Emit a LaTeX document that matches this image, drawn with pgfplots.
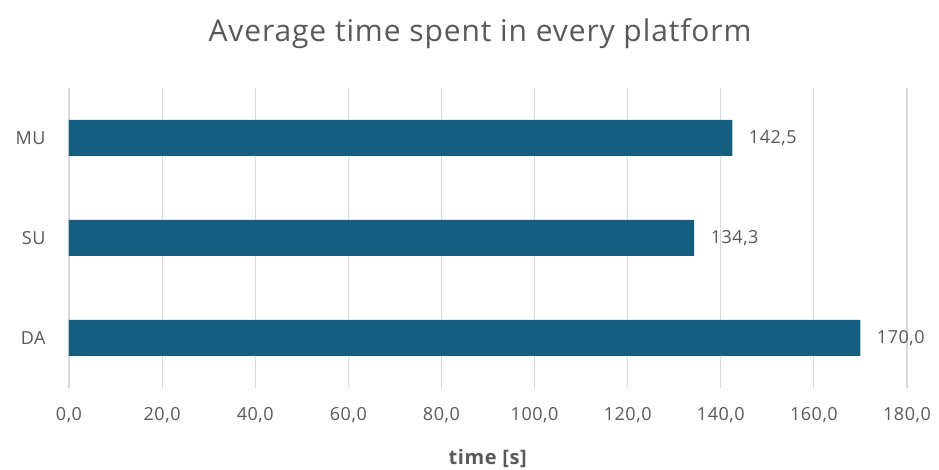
\documentclass[border=0pt]{standalone}
\usepackage{pgfplots}
\pgfplotsset{compat=1.18}
\usepackage{fontspec}
\setmainfont{Open Sans}[LetterSpace=3]
\definecolor{barc}{RGB}{22,94,128}
\definecolor{txt}{RGB}{89,89,89}
\definecolor{grd}{RGB}{217,217,217}
\begin{document}
\begin{tikzpicture}[x=1pt,y=1pt]
\useasboundingbox (0,0) rectangle (939,470);
\node[text=txt,font=\fontsize{30}{34}\selectfont] at (480,436) {Average time spent in every platform};
\begin{axis}[
  at={(69pt,82pt)}, anchor=south west,
  scale only axis, width=838pt, height=300pt,
  xbar, bar width=36pt,
  xmin=0, xmax=180, ymin=-0.5, ymax=2.5,
  xtick={0,20,...,180},
  ytick={0,1,2}, yticklabels={DA,SU,MU},
  xmajorgrids, grid style={grd, line width=1.2pt},
  axis line style={draw=none},
  major tick length=0pt,
  tick label style={text=txt, font=\fontsize{18}{21}\selectfont},
  xticklabel style={yshift=-16pt},
  yticklabel style={xshift=-20pt},
  /pgf/number format/.cd, fixed, fixed zerofill, precision=1, use comma, 1000 sep={}, assume math mode=true,
  /pgfplots/.cd,
  xlabel={\textbf{time [s]}},
  xlabel style={text=txt, font=\fontsize{20}{23}\selectfont, yshift=-20pt},
  nodes near coords,
  nodes near coords style={text=txt, font=\fontsize{18}{21}\selectfont, anchor=west, xshift=13pt,
    /pgf/number format/.cd, fixed, fixed zerofill, precision=1, use comma, assume math mode=true},
]
\addplot[fill=barc, draw=none] coordinates {(170.0,0) (134.3,1) (142.5,2)};
\end{axis}
\end{tikzpicture}
\end{document}
